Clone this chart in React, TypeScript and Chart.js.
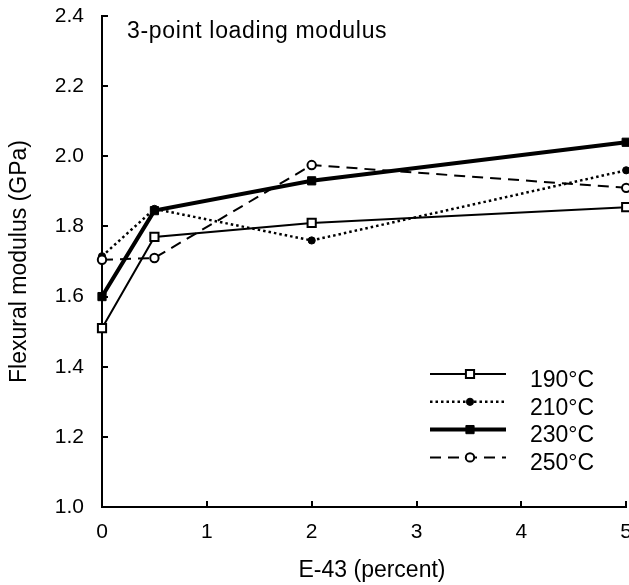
import React, { useEffect, useRef } from "react";
import { Chart, registerables } from "chart.js";

Chart.register(...registerables);

// ---- data ----
const xValues = [0, 0.5, 2, 5];
const series190 = [1.51, 1.77, 1.81, 1.855];
const series210 = [1.715, 1.85, 1.76, 1.96];
const series230 = [1.6, 1.845, 1.93, 2.04];
const series250 = [1.705, 1.71, 1.975, 1.91];
const seriesLabels = ["190°C", "210°C", "230°C", "250°C"];
const xTicks = [0, 1, 2, 3, 4, 5];
const xTickLabels = ["0", "1", "2", "3", "4", "5"];
const yTicks = [1.0, 1.2, 1.4, 1.6, 1.8, 2.0, 2.2, 2.4];
const yTickLabels = ["1.0", "1.2", "1.4", "1.6", "1.8", "2.0", "2.2", "2.4"];
const chartTitle = "3-point loading modulus";
const xTitle = "E-43 (percent)";
const yTitle = "Flexural modulus (GPa)";

const FONT = "'Liberation Sans', Arial, Helvetica, sans-serif";

const toPoints = (ys: number[]) => xValues.map((x, i) => ({ x, y: ys[i] }));

const drawMarker = (ctx: CanvasRenderingContext2D, ds: any, x: number, y: number) => {
  ctx.save();
  ctx.setLineDash([]);
  ctx.fillStyle = ds.pointBackgroundColor;
  ctx.strokeStyle = ds.pointBorderColor;
  ctx.lineWidth = ds.pointBorderWidth;
  ctx.beginPath();
  if (ds.pointStyle === "rect") {
    const s = Math.SQRT1_2 * ds.pointRadius;
    ctx.rect(x - s, y - s, 2 * s, 2 * s);
  } else {
    ctx.arc(x, y, ds.pointRadius, 0, Math.PI * 2);
  }
  ctx.fill();
  ctx.stroke();
  ctx.restore();
};

const decorPlugin = {
  id: "decor",
  afterDraw(chart: any) {
    const { ctx, chartArea, scales } = chart;
    const xs = scales.x;
    const ys = scales.y;
    ctx.save();
    // inward tick marks
    ctx.strokeStyle = "#000";
    ctx.lineWidth = 2;
    ctx.setLineDash([]);
    yTicks.forEach((v, i) => {
      if (i === 0) return;
      const py = Math.round(ys.getPixelForValue(v));
      ctx.beginPath();
      ctx.moveTo(chartArea.left, py);
      ctx.lineTo(chartArea.left + 6, py);
      ctx.stroke();
    });
    xTicks.forEach((v, i) => {
      if (i === 0) return;
      const px = Math.round(xs.getPixelForValue(v));
      ctx.beginPath();
      ctx.moveTo(px, chartArea.bottom);
      ctx.lineTo(px, chartArea.bottom - 6);
      ctx.stroke();
    });

    // chart title inside plot
    ctx.fillStyle = "#000";
    ctx.font = `23px ${FONT}`;
    ctx.textAlign = "left";
    ctx.textBaseline = "alphabetic";
    (ctx as any).letterSpacing = "0.7px";
    ctx.fillText(chartTitle, 127, 38);
    (ctx as any).letterSpacing = "0px";

    // x-axis title
    ctx.textAlign = "center";
    ctx.fillText(xTitle, 372, 577);

    // legend
    const datasets = chart.data.datasets;
    const lineX0 = 430;
    const lineX1 = 506;
    const markX = 470;
    const textX = 530;
    const rowY0 = 374;
    const rowStep = 27.8;
    datasets.forEach((ds: any, i: number) => {
      const ly = rowY0 + i * rowStep;
      ctx.save();
      ctx.strokeStyle = ds.borderColor;
      ctx.lineWidth = ds.borderWidth;
      ctx.setLineDash(ds.borderDash || []);
      ctx.beginPath();
      ctx.moveTo(lineX0, ly);
      ctx.lineTo(lineX1, ly);
      ctx.stroke();
      ctx.restore();
      drawMarker(ctx, ds, markX, ly);
      ctx.fillStyle = "#000";
      ctx.font = `23px ${FONT}`;
      ctx.textAlign = "left";
      ctx.textBaseline = "alphabetic";
      ctx.fillText(ds.label, textX, ly + 12.7);
    });
    ctx.restore();
  },
};

export default function App() {
  const canvasRef = useRef<HTMLCanvasElement | null>(null);

  useEffect(() => {
    const canvas = canvasRef.current;
    if (!canvas) return;
    Chart.defaults.font.family = FONT;
    Chart.defaults.color = "#000";

    const chart = new Chart(canvas, {
      type: "line",
      data: {
        datasets: [
          {
            label: seriesLabels[0],
            data: toPoints(series190),
            borderColor: "#000",
            borderWidth: 2,
            pointStyle: "rect",
            pointRadius: 5.8,
            pointBackgroundColor: "#fff",
            pointBorderColor: "#000",
            pointBorderWidth: 2,
            clip: false,
            order: 1,
          },
          {
            label: seriesLabels[1],
            data: toPoints(series210),
            borderColor: "#000",
            borderWidth: 2.5,
            borderDash: [2.5, 3],
            pointStyle: "circle",
            pointRadius: 3.6,
            pointBackgroundColor: "#000",
            pointBorderColor: "#000",
            pointBorderWidth: 1,
            clip: false,
            order: 3,
          },
          {
            label: seriesLabels[2],
            data: toPoints(series230),
            borderColor: "#000",
            borderWidth: 4,
            pointStyle: "rect",
            pointRadius: 5.8,
            pointBackgroundColor: "#000",
            pointBorderColor: "#000",
            pointBorderWidth: 1,
            clip: false,
            order: 2,
          },
          {
            label: seriesLabels[3],
            data: toPoints(series250),
            borderColor: "#000",
            borderWidth: 2,
            borderDash: [11, 7],
            pointStyle: "circle",
            pointRadius: 4.2,
            pointBackgroundColor: "#fff",
            pointBorderColor: "#000",
            pointBorderWidth: 2,
            clip: false,
            order: 0,
          },
        ] as any,
      },
      options: {
        responsive: false,
        animation: false,
        devicePixelRatio: 1,
        layout: { padding: { top: 16, right: 3, left: 0, bottom: 0 } },
        plugins: {
          legend: { display: false },
          tooltip: { enabled: false },
          title: { display: false },
        },
        elements: { line: { tension: 0 } },
        scales: {
          x: {
            type: "linear",
            min: 0,
            max: 5,
            grid: { display: false },
            border: { display: true, color: "#000", width: 2 },
            afterBuildTicks: (s: any) => {
              s.ticks = xTicks.map((v) => ({ value: v }));
            },
            afterFit: (s: any) => {
              s.height = 78;
              s.paddingLeft = 0;
              s.paddingRight = 0;
              s.paddingTop = 0;
              s.paddingBottom = 0;
            },
            ticks: {
              padding: 5,
              color: "#000",
              font: { size: 21, family: FONT },
              maxRotation: 0,
              autoSkip: false,
              callback: (_v: any, i: number) => xTickLabels[i],
            },
            title: { display: false },
          },
          y: {
            type: "linear",
            min: 1.0,
            max: 2.4,
            grid: { display: false },
            border: { display: true, color: "#000", width: 2 },
            afterBuildTicks: (s: any) => {
              s.ticks = yTicks.map((v) => ({ value: v }));
            },
            afterFit: (s: any) => {
              s.width = 102;
              s.paddingLeft = 0;
              s.paddingRight = 0;
              s.paddingTop = 0;
              s.paddingBottom = 0;
            },
            ticks: {
              padding: 10,
              color: "#000",
              font: { size: 21, family: FONT },
              autoSkip: false,
              callback: (_v: any, i: number) => yTickLabels[i],
            },
            title: {
              display: true,
              text: yTitle,
              color: "#000",
              font: { size: 23, family: FONT },
              padding: { top: 6, bottom: 0 },
            },
          },
        },
      } as any,
      plugins: [decorPlugin],
    });

    return () => chart.destroy();
  }, []);

  return (
    <div
      style={{
        position: "absolute",
        left: 0,
        top: 0,
        width: 629,
        height: 585,
        overflow: "hidden",
        background: "#fff",
      }}
    >
      <canvas ref={canvasRef} width={634} height={585} style={{ display: "block", width: 634, height: 585 }} />
    </div>
  );
}
